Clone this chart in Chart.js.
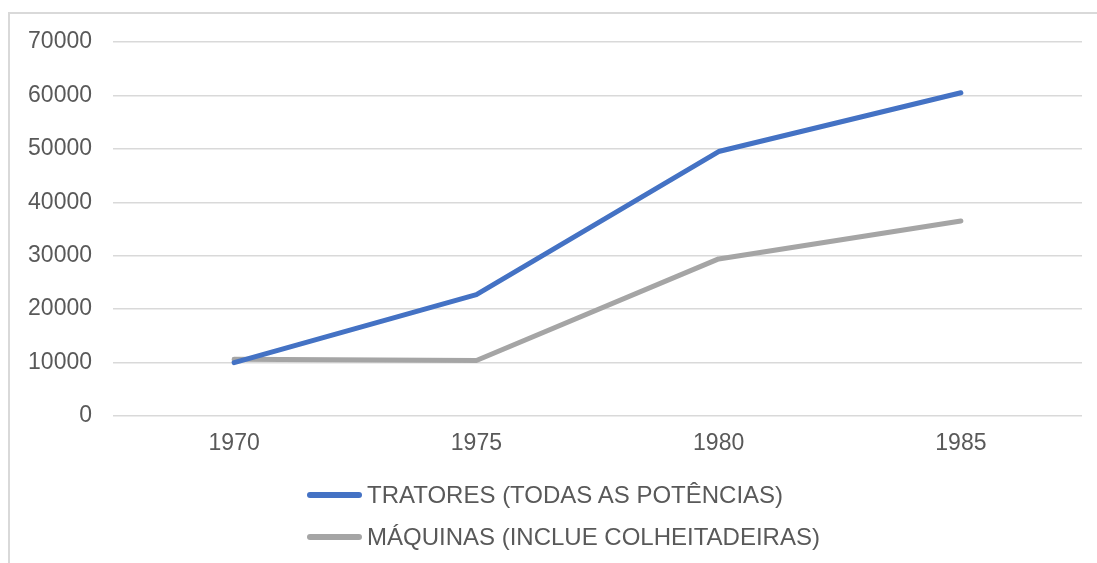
<!DOCTYPE html>
<html>
<head>
<meta charset="utf-8">
<script src="https://cdn.jsdelivr.net/npm/chart.js@4/dist/chart.umd.min.js"></script>
<style>
  html, body { margin: 0; padding: 0; background: #fff; }
  #wrap { position: relative; width: 1097px; height: 563px; overflow: hidden; }
  #frame { position: absolute; left: 8px; top: 12px; width: 1200px; height: 600px;
           border-left: 2px solid #d9d9d9; border-top: 2px solid #d9d9d9; box-sizing: border-box; }
  canvas { position: absolute; left: 0; top: 0; }
  #legend { position: absolute; left: 307px; top: 474px; font-family: "Liberation Sans", Arial, sans-serif;
            font-size: 24px; color: #595959; }
  .item { height: 42px; line-height: 42px; display: flex; align-items: center; }
  .swatch { width: 55px; height: 6px; border-radius: 3px; margin-right: 5px; }
</style>
</head>
<body>
<div id="wrap">
  <div id="frame"></div>
  <canvas id="chart" width="1097" height="563"></canvas>
  <div id="legend"></div>
</div>
<script>
const years = ['1970', '1975', '1980', '1985'];
const tratores = [10000, 22700, 49500, 60500];
const maquinas = [10600, 10400, 29400, 36500];
const seriesNames = ['TRATORES (TODAS AS POTÊNCIAS)', 'MÁQUINAS (INCLUE COLHEITADEIRAS)'];
const seriesColors = ['#4472C4', '#A5A5A5'];

const tickFont = { family: '"Liberation Sans", Arial, sans-serif', size: 23 };

const ctx = document.getElementById('chart').getContext('2d');
const chart = new Chart(ctx, {
  type: 'line',
  data: {
    labels: years,
    datasets: [tratores, maquinas].map((values, i) => ({
      label: seriesNames[i],
      data: values,
      borderColor: seriesColors[i],
      backgroundColor: seriesColors[i],
      borderWidth: 5,
      borderCapStyle: 'round',
      borderJoinStyle: 'round',
      pointRadius: 0,
      tension: 0,
    })),
  },
  options: {
    responsive: false,
    animation: false,
    layout: { padding: { left: 0, right: 15, top: 42, bottom: 107 } },
    plugins: { legend: { display: false }, tooltip: { enabled: false } },
    scales: {
      x: {
        offset: true,
        grid: { display: false, drawTicks: false },
        border: { display: false },
        ticks: { color: '#595959', font: tickFont, padding: 14, maxRotation: 0 },
        afterFit: (scale) => { scale.height = 40; },
      },
      y: {
        min: 0,
        max: 70000,
        grid: { color: '#d9d9d9', lineWidth: 1.5, drawTicks: false },
        border: { display: false },
        ticks: {
          stepSize: 10000, color: '#595959', font: tickFont, padding: 21,
          callback: (v) => String(v),
        },
        afterFit: (scale) => { scale.width = 113; },
      },
    },
  },
});

const legend = document.getElementById('legend');
chart.data.datasets.forEach((ds) => {
  const item = document.createElement('div');
  item.className = 'item';
  const swatch = document.createElement('span');
  swatch.className = 'swatch';
  swatch.style.background = ds.borderColor;
  const text = document.createElement('span');
  text.textContent = ds.label;
  item.appendChild(swatch);
  item.appendChild(text);
  legend.appendChild(item);
});
</script>
</body>
</html>
